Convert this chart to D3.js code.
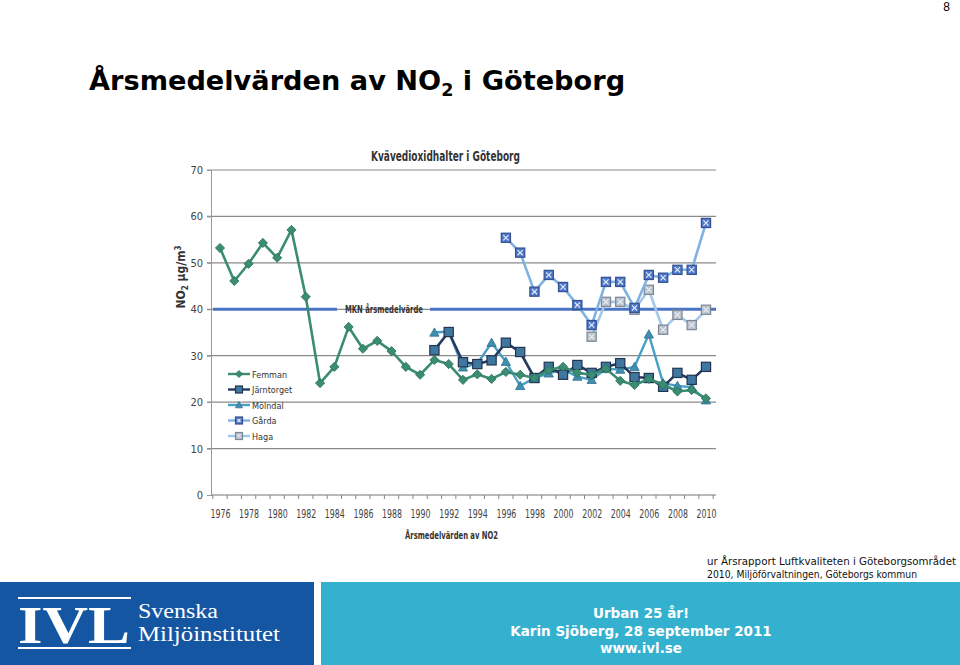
<!DOCTYPE html>
<html>
<head>
<meta charset="utf-8">
<script src="https://cdn.jsdelivr.net/npm/d3@7"></script>
<style>
  html, body { margin: 0; padding: 0; background: #fff; }
  svg { display: block; }
</style>
</head>
<body>
<svg id="slide" width="960" height="665"></svg>
<script>
// categories
const years = [1976,1977,1978,1979,1980,1981,1982,1983,1984,1985,1986,1987,1988,1989,1990,
  1991,1992,1993,1994,1995,1996,1997,1998,1999,2000,2001,2002,2003,2004,2005,2006,2007,2008,2009,2010];
const yTicks = [0,10,20,30,40,50,60,70];
const xTickLabels = [1976,1978,1980,1982,1984,1986,1988,1990,1992,1994,1996,1998,2000,2002,2004,2006,2008,2010];

// series values (µg/m3)
const femmanStart = 1976;
const femman = [53.2,46.1,49.8,54.3,51.1,57.1,42.7,24.1,27.6,36.2,31.5,33.2,31.0,27.6,25.9,
  29.1,28.2,24.8,26.0,25.0,26.5,25.9,25.2,26.9,27.6,26.3,25.9,27.2,24.6,23.7,25.0,23.8,22.3,22.6,20.8];
const jarntorgetStart = 1991;
const jarntorget = [31.2,35.1,28.6,28.2,29.0,32.8,30.8,25.2,27.6,25.9,28.0,26.3,27.6,28.4,25.4,25.2,23.3,26.3,24.8,27.6];
const molndalStart = 1991;
const molndal = [35.0,35.2,27.5,28.3,32.8,28.7,23.5,25.2,26.2,27.0,25.5,24.8,27.2,27.0,27.6,34.6,24.1,23.5,23.2,20.4];
const gardaStart = 1996;
const garda = [55.4,52.2,43.8,47.4,44.8,40.9,36.6,45.9,45.9,40.3,47.4,46.8,48.5,48.5,58.6];
const hagaStart = 2002;
const haga = [34.1,41.6,41.6,39.9,44.2,35.6,38.8,36.6,39.9];
const mknLimit = 40;

const narrow = "'DejaVu Sans Condensed', 'Liberation Sans Narrow', sans-serif";
const verdana = "'DejaVu Sans', Verdana, sans-serif";
const serif = "'Liberation Serif', 'DejaVu Serif', serif";

let svg = d3.select("#slide");

// page number + slide title
svg.append("text").attr("x", 950).attr("y", 11).attr("text-anchor", "end")
  .attr("font-family", "'Liberation Sans', Arial, sans-serif").attr("font-size", 12).text("8");

let title = svg.append("text").attr("x", 89).attr("y", 90)
  .attr("font-family", verdana).attr("font-weight", "bold").attr("font-size", 27.2).attr("fill", "#000");
title.append("tspan").text("Årsmedelvärden av NO");
title.append("tspan").attr("font-size", 17.5).attr("dy", 6).text("2");
title.append("tspan").attr("dy", -6).text(" i Göteborg");

// scales
let x = d3.scaleLinear().domain([1976, 2010]).range([220, 706]);
let y = d3.scaleLinear().domain([0, 70]).range([495, 170]);
let plotLeft = 211, plotRight = 716;

let chart = svg.append("g");

// chart title
chart.append("text").attr("x", 371).attr("y", 161)
  .attr("font-family", narrow).attr("font-weight", "bold").attr("font-size", 13.5).attr("fill", "#333")
  .attr("textLength", 149).attr("lengthAdjust", "spacingAndGlyphs")
  .text("Kvävedioxidhalter i Göteborg");

// gridlines
chart.selectAll(".grid").data(yTicks.filter(d => d > 0)).enter().append("line")
  .attr("x1", plotLeft - 4).attr("x2", plotRight)
  .attr("y1", d => y(d)).attr("y2", d => y(d))
  .attr("stroke", "#8a8a8a").attr("stroke-width", 1.2);

// y axis
let yAxis = chart.append("g").attr("transform", `translate(${plotLeft},0)`)
  .call(d3.axisLeft(y).tickValues(yTicks).tickSize(4).tickPadding(4));
yAxis.select(".domain").attr("stroke", "#999");
yAxis.selectAll("line").attr("stroke", "#999");
yAxis.selectAll("text").attr("font-family", narrow).attr("font-size", 11).attr("fill", "#444");

// x axis: ticks on category boundaries, labels every other year
let xb = chart.append("g").attr("transform", `translate(0,${y(0)})`);
xb.append("line").attr("x1", plotLeft).attr("x2", plotRight).attr("stroke", "#777").attr("stroke-width", 1.2);
xb.selectAll(".tk").data(years.concat([2011])).enter().append("line")
  .attr("x1", d => x(d - 0.5)).attr("x2", d => x(d - 0.5))
  .attr("y1", 0).attr("y2", 4).attr("stroke", "#888");
xb.selectAll(".lb").data(xTickLabels).enter().append("text")
  .attr("x", d => x(d) - 9.5).attr("y", 23)
  .attr("font-family", narrow).attr("font-size", 11.5).attr("fill", "#444")
  .attr("textLength", 20).attr("lengthAdjust", "spacingAndGlyphs").text(d => d);

// axis titles
chart.append("text").attr("x", 405).attr("y", 539)
  .attr("font-family", narrow).attr("font-weight", "bold").attr("font-size", 11).attr("fill", "#333")
  .attr("textLength", 93).attr("lengthAdjust", "spacingAndGlyphs")
  .text("Årsmedelvärden av NO2");

let ylab = chart.append("text").attr("transform", "translate(185,277) rotate(-90)")
  .attr("text-anchor", "middle").attr("font-family", narrow).attr("font-weight", "bold")
  .attr("font-size", 12).attr("fill", "#333");
ylab.append("tspan").text("NO");
ylab.append("tspan").attr("font-size", 8).attr("dy", 3).text("2");
ylab.append("tspan").attr("dy", -3).text(" µg/m");
ylab.append("tspan").attr("font-size", 8).attr("dy", -4).text("3");

// MKN limit line with label gap
let mknY = y(mknLimit);
chart.append("line").attr("x1", plotLeft + 2).attr("x2", 337).attr("y1", mknY).attr("y2", mknY)
  .attr("stroke", "#4a74c4").attr("stroke-width", 3);
chart.append("line").attr("x1", 430).attr("x2", plotRight).attr("y1", mknY).attr("y2", mknY)
  .attr("stroke", "#4a74c4").attr("stroke-width", 3);
chart.append("text").attr("x", 345).attr("y", mknY + 4)
  .attr("font-family", narrow).attr("font-weight", "bold").attr("font-size", 11).attr("fill", "#333")
  .attr("textLength", 78).attr("lengthAdjust", "spacingAndGlyphs")
  .text("MKN årsmedelvärde");

// series config
let series = [
  {name: "Femman", start: femmanStart, values: femman, line: "#3a8c72", fill: "#3a8c72", stroke: "#2b6e58", shape: "diamond", width: 2.6},
  {name: "Järntorget", start: jarntorgetStart, values: jarntorget, line: "#26395f", fill: "#3f77a0", stroke: "#22344f", shape: "square", width: 2.6},
  {name: "Mölndal", start: molndalStart, values: molndal, line: "#4aa0c4", fill: "#3f8fb0", stroke: "#2f6f8c", shape: "triangle", width: 2.4},
  {name: "Gårda", start: gardaStart, values: garda, line: "#7fb2e2", fill: "#4f78cc", stroke: "#34528f", shape: "xsquare", width: 2.6},
  {name: "Haga", start: hagaStart, values: haga, line: "#a3c7ea", fill: "#b9c2cc", stroke: "#7d8896", shape: "xsquare", width: 2.6}
];

let lineGen = d3.line().x(d => x(d.year)).y(d => y(d.value));

function drawMarker(g, shape, cx, cy, s, fill, stroke) {
  if (shape === "diamond") {
    g.append("path").attr("d", `M${cx},${cy - s}L${cx + s},${cy}L${cx},${cy + s}L${cx - s},${cy}Z`)
      .attr("fill", fill).attr("stroke", stroke).attr("stroke-width", 0.8);
  } else if (shape === "square") {
    g.append("rect").attr("x", cx - s).attr("y", cy - s).attr("width", 2 * s).attr("height", 2 * s)
      .attr("fill", fill).attr("stroke", stroke).attr("stroke-width", 1.2);
  } else if (shape === "triangle") {
    g.append("path").attr("d", `M${cx},${cy - s}L${cx + s},${cy + s * 0.8}L${cx - s},${cy + s * 0.8}Z`)
      .attr("fill", fill).attr("stroke", stroke).attr("stroke-width", 0.8);
  } else {
    g.append("rect").attr("x", cx - s).attr("y", cy - s).attr("width", 2 * s).attr("height", 2 * s)
      .attr("fill", fill).attr("stroke", stroke).attr("stroke-width", 1.2);
    g.append("path").attr("d", `M${cx - s + 2},${cy - s + 2}L${cx + s - 2},${cy + s - 2}M${cx + s - 2},${cy - s + 2}L${cx - s + 2},${cy + s - 2}`)
      .attr("stroke", "#e8eef6").attr("stroke-width", 1.1);
  }
}

// draw in reverse so Femman ends up on top like the original
series.slice().reverse().forEach(s => {
  let pts = s.values.map((v, i) => ({year: s.start + i, value: v}));
  let g = chart.append("g").attr("class", "series");
  g.append("path").datum(pts).attr("d", lineGen).attr("fill", "none")
    .attr("stroke", s.line).attr("stroke-width", s.width).attr("stroke-linejoin", "round");
  pts.forEach(p => drawMarker(g, s.shape, x(p.year), y(p.value), 4.6, s.fill, s.stroke));
});

// legend
let legend = chart.append("g");
series.forEach((s, i) => {
  let ly = 374 + i * 15.5;
  legend.append("line").attr("x1", 228).attr("x2", 250).attr("y1", ly).attr("y2", ly)
    .attr("stroke", s.line).attr("stroke-width", 2.4);
  drawMarker(legend, s.shape, 239, ly, 3.5, s.fill, s.stroke);
  legend.append("text").attr("x", 252).attr("y", ly + 3.5)
    .attr("font-family", narrow).attr("font-size", 9).attr("fill", "#333").text(s.name);
});

// source note
let src = svg.append("g").attr("font-family", verdana).attr("font-size", 10).attr("fill", "#111");
src.append("text").attr("x", 707).attr("y", 565).attr("textLength", 249).attr("lengthAdjust", "spacingAndGlyphs")
  .text("ur Årsrapport Luftkvaliteten i Göteborgsområdet");
src.append("text").attr("x", 707).attr("y", 578).attr("textLength", 210).attr("lengthAdjust", "spacingAndGlyphs")
  .text("2010, Miljöförvaltningen, Göteborgs kommun");

// footer
let foot = svg.append("g");
foot.append("rect").attr("x", 0).attr("y", 582).attr("width", 314).attr("height", 83).attr("fill", "#1556a3");
foot.append("rect").attr("x", 321).attr("y", 582).attr("width", 639).attr("height", 83).attr("fill", "#35b1d0");

// IVL logo
foot.append("line").attr("x1", 18).attr("x2", 131).attr("y1", 598).attr("y2", 598).attr("stroke", "#fff").attr("stroke-width", 2);
foot.append("line").attr("x1", 18).attr("x2", 131).attr("y1", 648).attr("y2", 648).attr("stroke", "#fff").attr("stroke-width", 2);
foot.append("text").attr("x", 74).attr("y", 643).attr("text-anchor", "middle")
  .attr("font-family", serif).attr("font-weight", "bold")
  .attr("font-size", 52).attr("fill", "#fff").attr("textLength", 112).attr("lengthAdjust", "spacingAndGlyphs").text("IVL");
foot.append("text").attr("x", 138).attr("y", 618).attr("font-family", serif)
  .attr("font-size", 20).attr("fill", "#fff").attr("textLength", 80).attr("lengthAdjust", "spacingAndGlyphs").text("Svenska");
foot.append("text").attr("x", 138).attr("y", 641).attr("font-family", serif)
  .attr("font-size", 20).attr("fill", "#fff").attr("textLength", 142).attr("lengthAdjust", "spacingAndGlyphs").text("Miljöinstitutet");

let ft = foot.append("g").attr("font-family", verdana).attr("font-weight", "bold").attr("font-size", 13.5)
  .attr("fill", "#fff").attr("text-anchor", "middle");
ft.append("text").attr("x", 641).attr("y", 618).text("Urban 25 år!");
ft.append("text").attr("x", 641).attr("y", 636).text("Karin Sjöberg, 28 september 2011");
ft.append("text").attr("x", 641).attr("y", 653).text("www.ivl.se");
</script>
</body>
</html>
